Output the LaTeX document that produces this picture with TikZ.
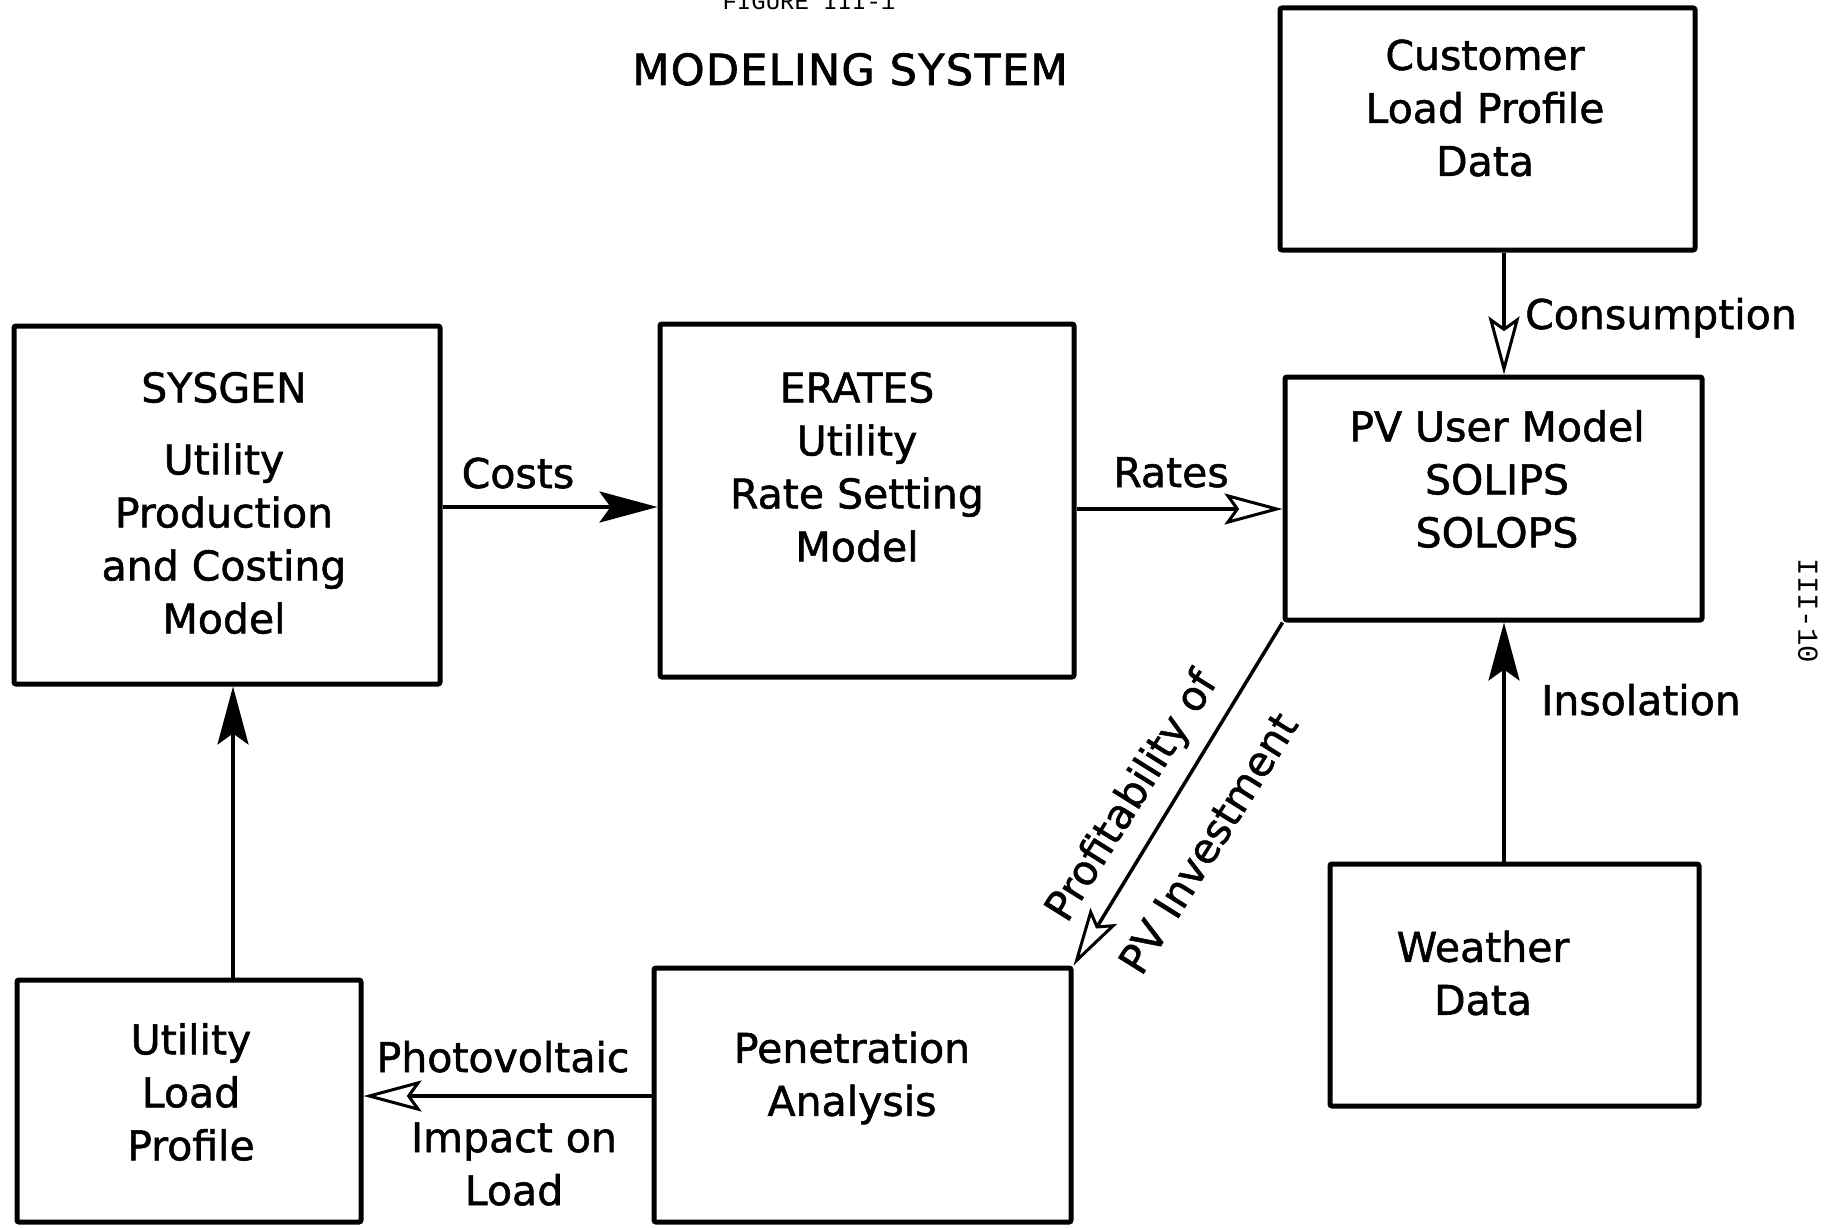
\documentclass[tikz,border=0pt]{standalone}
\usepackage{fontspec}
\setmainfont{DejaVu Sans}[UprightFeatures={FakeBold=1.3}]
\newfontfamily\titlefont{DejaVu Sans}[UprightFeatures={FakeBold=1.6}, LetterSpace=3]
\newfontfamily\monofont{Liberation Mono}
\usetikzlibrary{arrows.meta}

\begin{document}
\begin{tikzpicture}[x=1pt,y=-1pt,
  box/.style={draw, line width=5pt, rounded corners=2pt, inner sep=0pt},
  boxtext/.style={align=center, inner sep=0pt,
    font=\fontsize{41}{53}\selectfont},
  lbl/.style={inner sep=0pt, align=center,
    font=\fontsize{41}{53}\selectfont},
  flowfill/.style={line width=3.5pt,
    -{Stealth[length=58pt,width=31pt,inset=11pt]}},
  flowopen/.style={line width=3.5pt,
    -{Stealth[open,length=58pt,width=31pt,inset=11pt,line width=3pt]}},
]
\useasboundingbox (0,0) rectangle (1825,1228);

% headings
\node[inner sep=0pt, anchor=base, font=\monofont\fontsize{24}{28}\selectfont]
  (fig) at (809,10) {FIGURE III-1};
\node[inner sep=0pt, anchor=base, font=\titlefont\fontsize{43}{53}\selectfont]
  (title) at (850,85) {MODELING SYSTEM};
\node[inner sep=0pt, rotate=-90, font=\monofont\fontsize{29}{32}\selectfont]
  (page) at (1808,611) {III-10};

% model boxes
\node[box, minimum width=426pt, minimum height=358pt] (sysgen)   at (227,505) {};
\node[box, minimum width=414pt, minimum height=353pt] (erates)   at (867,500.5) {};
\node[box, minimum width=415pt, minimum height=242pt] (customer) at (1487.5,129) {};
\node[box, minimum width=417pt, minimum height=243pt] (pv)       at (1493.5,498.5) {};
\node[box, minimum width=369pt, minimum height=242pt] (weather)  at (1514.5,985) {};
\node[box, minimum width=417pt, minimum height=254pt] (pen)      at (862.5,1095) {};
\node[box, minimum width=344pt, minimum height=242pt] (ulp)      at (189,1101) {};

% box contents
\node[boxtext] (sysgen-t) at (224,503)
  {SYSGEN\\[19pt] Utility\\ Production\\ and Costing\\ Model};
\node[boxtext] (erates-t) at (857,467)
  {ERATES\\ Utility\\ Rate Setting\\ Model};
\node[boxtext] (customer-t) at (1485,108)
  {Customer\\ Load Profile\\ Data};
\node[boxtext] (pv-t) at (1497,479)
  {PV User Model\\ SOLIPS\\ SOLOPS};
\node[boxtext] (weather-t) at (1483,973) {Weather\\ Data};
\node[boxtext] (pen-t) at (852,1078) {Penetration\\ Analysis};
\node[boxtext] (ulp-t) at (191,1092) {Utility\\ Load\\ Profile};

% connector guide positions
\coordinate (xcons) at (1504,0);
\coordinate (xleft) at (233,0);
\coordinate (ycost) at (0,507);
\coordinate (yrate) at (0,509);
\coordinate (yimp)  at (0,1096);

% flows
\draw[flowfill] (sysgen.east |- ycost) -- (erates.west |- ycost);
\draw[flowopen] (erates.east |- yrate) -- (pv.west |- yrate);
\draw[flowopen] (customer.south -| xcons) -- (pv.north -| xcons);
\draw[flowfill] (weather.north -| xcons) -- (pv.south -| xcons);
\draw[flowfill] (ulp.north -| xleft) -- (sysgen.south -| xleft);
\draw[flowopen] (pen.west |- yimp) -- (ulp.east |- yimp);
\draw[flowopen] (pv.south west) -- (pen.north east);

% flow labels
\node[lbl, anchor=base] (costs-l) at (518,488) {Costs};
\node[lbl, anchor=base] (rates-l) at (1171,487) {Rates};
\node[lbl, anchor=base west] (cons-l) at (1525,329) {Consumption};
\node[lbl, anchor=base] (insol-l) at (1641,715) {Insolation};
\node[lbl, anchor=base] (photo-l) at (503,1072) {Photovoltaic};
\node[lbl] (impact-l) at (514,1164) {Impact on\\ Load};
\node[lbl, rotate=58] (prof-l) at (1133,797) {Profitability of};
\node[lbl, rotate=58] (inv-l) at (1208,843) {PV Investment};
\end{tikzpicture}
\end{document}
